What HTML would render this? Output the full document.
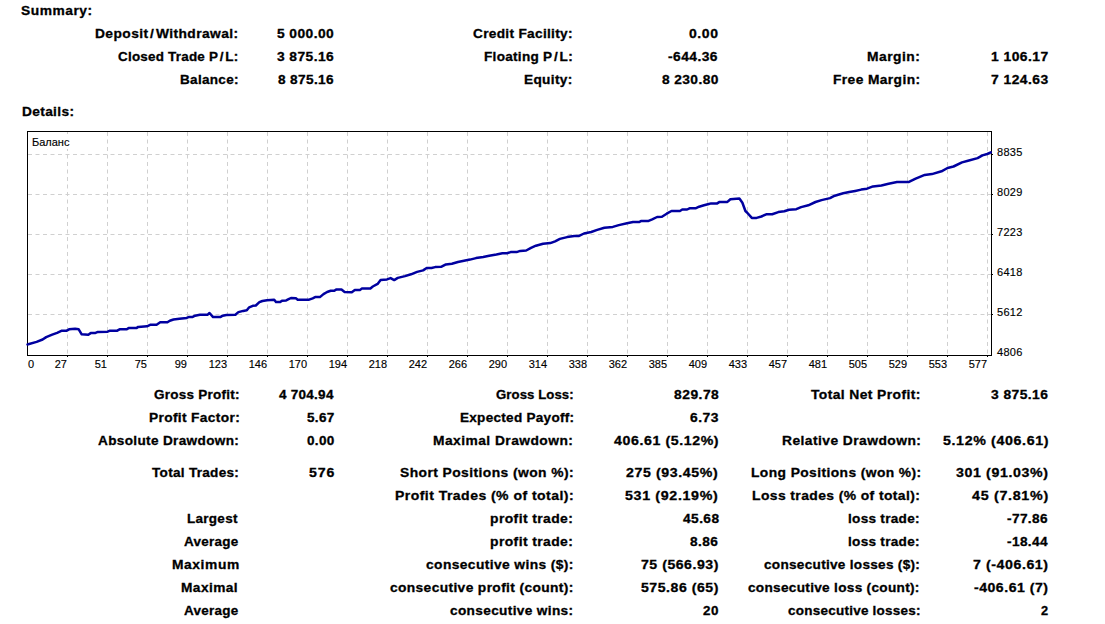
<!DOCTYPE html>
<html><head><meta charset="utf-8"><style>
html,body{margin:0;padding:0;background:#fff;width:1105px;height:624px;overflow:hidden;position:relative}
.t{position:absolute;transform-origin:0 0;-webkit-text-stroke:0.3px #000;font:bold 13px/20px "Liberation Sans",sans-serif;color:#000;white-space:pre}
.a{position:absolute;font:11px/14px "Liberation Sans",sans-serif;color:#000;white-space:pre;-webkit-text-stroke:0.15px #000}
</style></head><body>
<svg width="1105" height="624" style="position:absolute;left:0;top:0">
<line x1="67.5" y1="132" x2="67.5" y2="355" stroke="#d0d0d0" stroke-width="1" stroke-dasharray="4 3.5"/>
<line x1="107.5" y1="132" x2="107.5" y2="355" stroke="#d0d0d0" stroke-width="1" stroke-dasharray="4 3.5"/>
<line x1="147.5" y1="132" x2="147.5" y2="355" stroke="#d0d0d0" stroke-width="1" stroke-dasharray="4 3.5"/>
<line x1="187.5" y1="132" x2="187.5" y2="355" stroke="#d0d0d0" stroke-width="1" stroke-dasharray="4 3.5"/>
<line x1="227.5" y1="132" x2="227.5" y2="355" stroke="#d0d0d0" stroke-width="1" stroke-dasharray="4 3.5"/>
<line x1="267.5" y1="132" x2="267.5" y2="355" stroke="#d0d0d0" stroke-width="1" stroke-dasharray="4 3.5"/>
<line x1="307.5" y1="132" x2="307.5" y2="355" stroke="#d0d0d0" stroke-width="1" stroke-dasharray="4 3.5"/>
<line x1="347.5" y1="132" x2="347.5" y2="355" stroke="#d0d0d0" stroke-width="1" stroke-dasharray="4 3.5"/>
<line x1="387.5" y1="132" x2="387.5" y2="355" stroke="#d0d0d0" stroke-width="1" stroke-dasharray="4 3.5"/>
<line x1="427.5" y1="132" x2="427.5" y2="355" stroke="#d0d0d0" stroke-width="1" stroke-dasharray="4 3.5"/>
<line x1="467.5" y1="132" x2="467.5" y2="355" stroke="#d0d0d0" stroke-width="1" stroke-dasharray="4 3.5"/>
<line x1="507.5" y1="132" x2="507.5" y2="355" stroke="#d0d0d0" stroke-width="1" stroke-dasharray="4 3.5"/>
<line x1="547.5" y1="132" x2="547.5" y2="355" stroke="#d0d0d0" stroke-width="1" stroke-dasharray="4 3.5"/>
<line x1="587.5" y1="132" x2="587.5" y2="355" stroke="#d0d0d0" stroke-width="1" stroke-dasharray="4 3.5"/>
<line x1="627.5" y1="132" x2="627.5" y2="355" stroke="#d0d0d0" stroke-width="1" stroke-dasharray="4 3.5"/>
<line x1="667.5" y1="132" x2="667.5" y2="355" stroke="#d0d0d0" stroke-width="1" stroke-dasharray="4 3.5"/>
<line x1="707.5" y1="132" x2="707.5" y2="355" stroke="#d0d0d0" stroke-width="1" stroke-dasharray="4 3.5"/>
<line x1="747.5" y1="132" x2="747.5" y2="355" stroke="#d0d0d0" stroke-width="1" stroke-dasharray="4 3.5"/>
<line x1="787.5" y1="132" x2="787.5" y2="355" stroke="#d0d0d0" stroke-width="1" stroke-dasharray="4 3.5"/>
<line x1="827.5" y1="132" x2="827.5" y2="355" stroke="#d0d0d0" stroke-width="1" stroke-dasharray="4 3.5"/>
<line x1="867.5" y1="132" x2="867.5" y2="355" stroke="#d0d0d0" stroke-width="1" stroke-dasharray="4 3.5"/>
<line x1="907.5" y1="132" x2="907.5" y2="355" stroke="#d0d0d0" stroke-width="1" stroke-dasharray="4 3.5"/>
<line x1="947.5" y1="132" x2="947.5" y2="355" stroke="#d0d0d0" stroke-width="1" stroke-dasharray="4 3.5"/>
<line x1="987.5" y1="132" x2="987.5" y2="355" stroke="#d0d0d0" stroke-width="1" stroke-dasharray="4 3.5"/>
<line x1="28" y1="154.5" x2="991" y2="154.5" stroke="#d0d0d0" stroke-width="1" stroke-dasharray="4 3.5"/>
<line x1="28" y1="194.5" x2="991" y2="194.5" stroke="#d0d0d0" stroke-width="1" stroke-dasharray="4 3.5"/>
<line x1="28" y1="234.5" x2="991" y2="234.5" stroke="#d0d0d0" stroke-width="1" stroke-dasharray="4 3.5"/>
<line x1="28" y1="274.5" x2="991" y2="274.5" stroke="#d0d0d0" stroke-width="1" stroke-dasharray="4 3.5"/>
<line x1="28" y1="314.5" x2="991" y2="314.5" stroke="#d0d0d0" stroke-width="1" stroke-dasharray="4 3.5"/>
<rect x="27.5" y="131.5" width="964" height="224" fill="none" stroke="#000" stroke-width="1"/>
<rect x="67" y="356" width="1" height="1" fill="#000"/>
<rect x="107" y="356" width="1" height="1" fill="#000"/>
<rect x="147" y="356" width="1" height="1" fill="#000"/>
<rect x="187" y="356" width="1" height="1" fill="#000"/>
<rect x="227" y="356" width="1" height="1" fill="#000"/>
<rect x="267" y="356" width="1" height="1" fill="#000"/>
<rect x="307" y="356" width="1" height="1" fill="#000"/>
<rect x="347" y="356" width="1" height="1" fill="#000"/>
<rect x="387" y="356" width="1" height="1" fill="#000"/>
<rect x="427" y="356" width="1" height="1" fill="#000"/>
<rect x="467" y="356" width="1" height="1" fill="#000"/>
<rect x="507" y="356" width="1" height="1" fill="#000"/>
<rect x="547" y="356" width="1" height="1" fill="#000"/>
<rect x="587" y="356" width="1" height="1" fill="#000"/>
<rect x="627" y="356" width="1" height="1" fill="#000"/>
<rect x="667" y="356" width="1" height="1" fill="#000"/>
<rect x="707" y="356" width="1" height="1" fill="#000"/>
<rect x="747" y="356" width="1" height="1" fill="#000"/>
<rect x="787" y="356" width="1" height="1" fill="#000"/>
<rect x="827" y="356" width="1" height="1" fill="#000"/>
<rect x="867" y="356" width="1" height="1" fill="#000"/>
<rect x="907" y="356" width="1" height="1" fill="#000"/>
<rect x="947" y="356" width="1" height="1" fill="#000"/>
<rect x="987" y="356" width="1" height="1" fill="#000"/>
<rect x="992" y="154" width="1" height="1" fill="#000"/>
<rect x="992" y="194" width="1" height="1" fill="#000"/>
<rect x="992" y="234" width="1" height="1" fill="#000"/>
<rect x="992" y="274" width="1" height="1" fill="#000"/>
<rect x="992" y="314" width="1" height="1" fill="#000"/>
<polyline points="27.5,344.5 28.2,344.3 36.6,341.9 42.6,339.5 46.2,337.1 52.2,334.7 57.1,332.9 61.9,330.7 66.7,330.7 69.1,329.3 75.1,328.7 78.7,329.3 81.7,334.3 88.3,334.7 90.7,333.1 95.5,332.9 97.9,331.9 107.6,331.7 110.0,330.7 117.2,330.7 119.6,329.3 126.8,329.3 128.6,328.1 136.4,328.1 138.2,326.9 147.0,326.3 150.6,324.7 156.6,324.7 160.2,322.3 167.4,322.3 169.8,320.7 173.5,319.5 179.5,318.7 186.7,317.9 189.1,316.9 192.7,316.9 195.1,315.7 199.9,314.7 207.7,314.7 209.5,313.0 213.1,317.1 220.3,317.1 222.7,315.7 226.4,315.1 235.4,314.7 238.4,312.1 243.2,310.9 246.8,310.3 249.2,307.3 252.8,305.8 255.8,305.5 259.4,302.2 262.4,301.0 267.0,300.2 274.2,299.7 276.0,302.1 280.2,302.1 282.0,300.7 286.2,300.4 288.6,299.2 291.0,298.0 295.9,298.3 297.7,299.7 309.1,299.7 312.7,298.3 315.1,297.1 319.9,297.1 323.5,294.1 327.1,292.0 330.7,290.8 334.3,290.8 336.1,289.6 341.5,289.6 344.6,292.0 351.8,292.3 354.8,290.1 360.2,289.9 362.0,288.4 370.4,288.4 372.8,286.5 377.6,283.9 380.6,280.0 387.0,279.4 390.6,278.1 394.2,280.1 397.8,277.9 405.0,276.1 411.0,274.3 417.1,271.9 423.1,270.4 426.7,268.0 431.5,268.0 435.1,267.1 441.1,266.8 445.9,264.4 451.9,263.7 457.9,262.0 464.0,260.8 470.0,259.6 476.0,258.1 483.2,256.9 489.2,255.7 496.4,254.5 502.4,253.3 507.0,253.3 510.6,252.1 516.6,252.1 520.2,250.9 526.2,250.5 531.0,247.9 535.9,245.7 543.1,243.7 550.3,243.1 555.1,241.3 559.9,238.9 567.1,237.1 574.3,235.9 579.1,235.9 584.0,233.5 591.2,232.0 597.2,229.9 604.4,227.7 612.8,226.9 618.8,225.1 627.0,223.2 633.0,222.1 639.0,222.1 641.4,220.9 648.6,220.9 652.2,219.4 657.1,217.0 661.9,216.7 666.7,213.7 671.5,211.0 679.9,211.0 682.3,209.5 687.1,209.5 689.5,208.3 695.5,208.3 699.1,206.7 704.0,205.2 708.8,204.0 711.2,203.4 717.2,203.4 719.6,201.9 727.4,201.9 730.4,199.2 739.4,198.6 742.4,202.8 745.4,211.0 747.0,212.5 751.8,217.9 756.6,217.9 761.4,216.5 766.2,214.3 772.2,214.3 778.3,212.1 784.3,211.3 789.1,209.7 796.3,209.2 801.1,207.1 808.3,205.3 815.5,202.0 821.5,200.1 830.0,198.1 834.8,195.7 843.2,193.3 849.2,192.1 855.2,190.9 861.2,189.6 867.0,188.7 873.0,186.4 881.4,185.5 888.6,183.7 897.0,182.1 908.5,182.1 915.1,178.9 924.7,174.9 931.9,174.1 941.5,171.3 947.5,168.0 953.5,166.5 962.0,162.4 968.0,160.8 977.6,158.1 982.4,155.4 987.2,154.0 990.8,152.4" fill="none" stroke="#0000a0" stroke-width="2.5" stroke-linejoin="round" stroke-linecap="round"/>
</svg>
<div class="t" style="left:21.44px;top:1.00px;transform:scaleX(1.0607);letter-spacing:0.498px">Summary:</div>
<div class="t" style="left:21.75px;top:102.00px;transform:scaleX(1.0544);letter-spacing:0.332px">Details:</div>
<div class="t" style="left:95.44px;top:24.00px;transform:scaleX(1.0599);letter-spacing:0.396px">Deposit<span style='margin:0 1.5px'>/</span>Withdrawal:</div>
<div class="t" style="left:118.27px;top:47.00px;transform:scaleX(1.0329);letter-spacing:0.221px">Closed Trade P<span style='margin:0 1.5px'>/</span>L:</div>
<div class="t" style="left:180.36px;top:70.00px;transform:scaleX(1.0404);letter-spacing:0.288px">Balance:</div>
<div class="t" style="left:277.34px;top:24.00px;transform:scaleX(1.0612);letter-spacing:0.404px">5 000.00</div>
<div class="t" style="left:277.34px;top:47.00px;transform:scaleX(1.0612);letter-spacing:0.404px">3 875.16</div>
<div class="t" style="left:278.40px;top:70.00px;transform:scaleX(1.0500);letter-spacing:0.340px">8 875.16</div>
<div class="t" style="left:473.35px;top:24.00px;transform:scaleX(1.0517);letter-spacing:0.288px">Credit Facility:</div>
<div class="t" style="left:483.56px;top:47.00px;transform:scaleX(1.0431);letter-spacing:0.276px">Floating P<span style='margin:0 1.5px'>/</span>L:</div>
<div class="t" style="left:524.35px;top:70.00px;transform:scaleX(1.0488);letter-spacing:0.326px">Equity:</div>
<div class="t" style="left:689.02px;top:24.00px;transform:scaleX(1.0750);letter-spacing:0.558px">0.00</div>
<div class="t" style="left:668.30px;top:47.00px;transform:scaleX(1.0614);letter-spacing:0.424px">-644.36</div>
<div class="t" style="left:662.00px;top:70.00px;transform:scaleX(1.0570);letter-spacing:0.385px">8 230.80</div>
<div class="t" style="left:867.34px;top:47.00px;transform:scaleX(1.0633);letter-spacing:0.447px">Margin:</div>
<div class="t" style="left:833.14px;top:70.00px;transform:scaleX(1.0586);letter-spacing:0.382px">Free Margin:</div>
<div class="t" style="left:991.03px;top:47.00px;transform:scaleX(1.0663);letter-spacing:0.435px">1 106.17</div>
<div class="t" style="left:991.03px;top:70.00px;transform:scaleX(1.0663);letter-spacing:0.435px">7 124.63</div>
<div class="t" style="left:153.76px;top:385.00px;transform:scaleX(1.0383);letter-spacing:0.237px">Gross Profit:</div>
<div class="t" style="left:278.90px;top:385.00px;transform:scaleX(1.0373);letter-spacing:0.262px">4 704.94</div>
<div class="t" style="left:495.59px;top:385.00px;transform:scaleX(1.0115);letter-spacing:0.084px">Gross Loss:</div>
<div class="t" style="left:674.00px;top:385.00px;transform:scaleX(1.0641);letter-spacing:0.470px">829.78</div>
<div class="t" style="left:811.30px;top:385.00px;transform:scaleX(1.0668);letter-spacing:0.372px">Total Net Profit:</div>
<div class="t" style="left:991.44px;top:385.00px;transform:scaleX(1.0633);letter-spacing:0.417px">3 875.16</div>
<div class="t" style="left:148.64px;top:408.00px;transform:scaleX(1.0570);letter-spacing:0.327px">Profit Factor:</div>
<div class="t" style="left:306.74px;top:408.00px;transform:scaleX(1.0400);letter-spacing:0.308px">5.67</div>
<div class="t" style="left:459.76px;top:408.00px;transform:scaleX(1.0413);letter-spacing:0.272px">Expected Payoff:</div>
<div class="t" style="left:689.80px;top:408.00px;transform:scaleX(1.0640);letter-spacing:0.501px">6.73</div>
<div class="t" style="left:98.20px;top:431.00px;transform:scaleX(1.0449);letter-spacing:0.324px">Absolute Drawdown:</div>
<div class="t" style="left:306.74px;top:431.00px;transform:scaleX(1.0400);letter-spacing:0.308px">0.00</div>
<div class="t" style="left:433.44px;top:431.00px;transform:scaleX(1.0602);letter-spacing:0.436px">Maximal Drawdown:</div>
<div class="t" style="left:614.40px;top:431.00px;transform:scaleX(1.0886);letter-spacing:0.551px">406.61 (5.12%)</div>
<div class="t" style="left:781.74px;top:431.00px;transform:scaleX(1.0628);letter-spacing:0.421px">Relative Drawdown:</div>
<div class="t" style="left:943.21px;top:431.00px;transform:scaleX(1.0943);letter-spacing:0.576px">5.12% (406.61)</div>
<div class="t" style="left:151.80px;top:463.00px;transform:scaleX(1.0437);letter-spacing:0.275px">Total Trades:</div>
<div class="t" style="left:309.11px;top:463.00px;transform:scaleX(1.0875);letter-spacing:0.805px">576</div>
<div class="t" style="left:399.54px;top:463.00px;transform:scaleX(1.0648);letter-spacing:0.402px">Short Positions (won %):</div>
<div class="t" style="left:626.40px;top:463.00px;transform:scaleX(1.0872);letter-spacing:0.569px">275 (93.45%)</div>
<div class="t" style="left:750.64px;top:463.00px;transform:scaleX(1.0614);letter-spacing:0.392px">Long Positions (won %):</div>
<div class="t" style="left:955.91px;top:463.00px;transform:scaleX(1.0890);letter-spacing:0.572px">301 (91.03%)</div>
<div class="t" style="left:395.42px;top:486.00px;transform:scaleX(1.0783);letter-spacing:0.424px">Profit Trades (% of total):</div>
<div class="t" style="left:625.31px;top:486.00px;transform:scaleX(1.0948);letter-spacing:0.606px">531 (92.19%)</div>
<div class="t" style="left:752.23px;top:486.00px;transform:scaleX(1.0675);letter-spacing:0.384px">Loss trades (% of total):</div>
<div class="t" style="left:972.20px;top:486.00px;transform:scaleX(1.0992);letter-spacing:0.632px">45 (7.81%)</div>
<div class="t" style="left:187.26px;top:509.00px;transform:scaleX(1.0370);letter-spacing:0.273px">Largest</div>
<div class="t" style="left:490.43px;top:509.00px;transform:scaleX(1.0690);letter-spacing:0.382px">profit trade:</div>
<div class="t" style="left:682.50px;top:509.00px;transform:scaleX(1.0547);letter-spacing:0.415px">45.68</div>
<div class="t" style="left:848.26px;top:509.00px;transform:scaleX(1.0445);letter-spacing:0.273px">loss trade:</div>
<div class="t" style="left:1007.00px;top:509.00px;transform:scaleX(1.0500);letter-spacing:0.352px">-77.86</div>
<div class="t" style="left:184.30px;top:532.00px;transform:scaleX(1.0340);letter-spacing:0.274px">Average</div>
<div class="t" style="left:490.43px;top:532.00px;transform:scaleX(1.0690);letter-spacing:0.382px">profit trade:</div>
<div class="t" style="left:690.40px;top:532.00px;transform:scaleX(1.0520);letter-spacing:0.412px">8.86</div>
<div class="t" style="left:848.26px;top:532.00px;transform:scaleX(1.0445);letter-spacing:0.273px">loss trade:</div>
<div class="t" style="left:1007.00px;top:532.00px;transform:scaleX(1.0500);letter-spacing:0.352px">-18.44</div>
<div class="t" style="left:171.54px;top:555.00px;transform:scaleX(1.0612);letter-spacing:0.558px">Maximum</div>
<div class="t" style="left:426.44px;top:555.00px;transform:scaleX(1.0612);letter-spacing:0.372px">consecutive wins ($):</div>
<div class="t" style="left:641.22px;top:555.00px;transform:scaleX(1.0823);letter-spacing:0.494px">75 (566.93)</div>
<div class="t" style="left:764.25px;top:555.00px;transform:scaleX(1.0450);letter-spacing:0.276px">consecutive losses ($):</div>
<div class="t" style="left:973.31px;top:555.00px;transform:scaleX(1.0911);letter-spacing:0.518px">7 (-406.61)</div>
<div class="t" style="left:181.35px;top:578.00px;transform:scaleX(1.0530);letter-spacing:0.419px">Maximal</div>
<div class="t" style="left:390.04px;top:578.00px;transform:scaleX(1.0593);letter-spacing:0.349px">consecutive profit (count):</div>
<div class="t" style="left:641.22px;top:578.00px;transform:scaleX(1.0823);letter-spacing:0.494px">575.86 (65)</div>
<div class="t" style="left:748.45px;top:578.00px;transform:scaleX(1.0468);letter-spacing:0.289px">consecutive loss (count):</div>
<div class="t" style="left:974.40px;top:578.00px;transform:scaleX(1.0817);letter-spacing:0.476px">-406.61 (7)</div>
<div class="t" style="left:184.30px;top:601.00px;transform:scaleX(1.0340);letter-spacing:0.274px">Average</div>
<div class="t" style="left:450.25px;top:601.00px;transform:scaleX(1.0500);letter-spacing:0.327px">consecutive wins:</div>
<div class="t" style="left:703.10px;top:601.00px;transform:scaleX(1.0321);letter-spacing:0.436px">20</div>
<div class="t" style="left:788.06px;top:601.00px;transform:scaleX(1.0368);letter-spacing:0.238px">consecutive losses:</div>
<div class="t" style="left:1040.90px;top:601.00px;transform:scaleX(0.9857);letter-spacing:0.000px">2</div>
<div class="a" style="left:28px;top:357px">0</div>
<div class="a" style="right:1038px;top:357px;text-align:right">27</div>
<div class="a" style="right:998px;top:357px;text-align:right">51</div>
<div class="a" style="right:958px;top:357px;text-align:right">75</div>
<div class="a" style="right:918px;top:357px;text-align:right">99</div>
<div class="a" style="right:878px;top:357px;text-align:right">123</div>
<div class="a" style="right:838px;top:357px;text-align:right">146</div>
<div class="a" style="right:798px;top:357px;text-align:right">170</div>
<div class="a" style="right:758px;top:357px;text-align:right">194</div>
<div class="a" style="right:718px;top:357px;text-align:right">218</div>
<div class="a" style="right:678px;top:357px;text-align:right">242</div>
<div class="a" style="right:638px;top:357px;text-align:right">266</div>
<div class="a" style="right:598px;top:357px;text-align:right">290</div>
<div class="a" style="right:558px;top:357px;text-align:right">314</div>
<div class="a" style="right:518px;top:357px;text-align:right">338</div>
<div class="a" style="right:478px;top:357px;text-align:right">362</div>
<div class="a" style="right:438px;top:357px;text-align:right">385</div>
<div class="a" style="right:398px;top:357px;text-align:right">409</div>
<div class="a" style="right:358px;top:357px;text-align:right">433</div>
<div class="a" style="right:318px;top:357px;text-align:right">457</div>
<div class="a" style="right:278px;top:357px;text-align:right">481</div>
<div class="a" style="right:238px;top:357px;text-align:right">505</div>
<div class="a" style="right:198px;top:357px;text-align:right">529</div>
<div class="a" style="right:158px;top:357px;text-align:right">553</div>
<div class="a" style="right:118px;top:357px;text-align:right">577</div>
<div class="a" style="left:997px;top:145px;letter-spacing:0.3px">8835</div>
<div class="a" style="left:997px;top:185px;letter-spacing:0.3px">8029</div>
<div class="a" style="left:997px;top:225px;letter-spacing:0.3px">7223</div>
<div class="a" style="left:997px;top:265px;letter-spacing:0.3px">6418</div>
<div class="a" style="left:997px;top:305px;letter-spacing:0.3px">5612</div>
<div class="a" style="left:997px;top:345px;letter-spacing:0.3px">4806</div>
<div class="a" style="left:28px;top:134px;padding:1px 2px 0 4px;background:#fff">Баланс</div>
</body></html>
